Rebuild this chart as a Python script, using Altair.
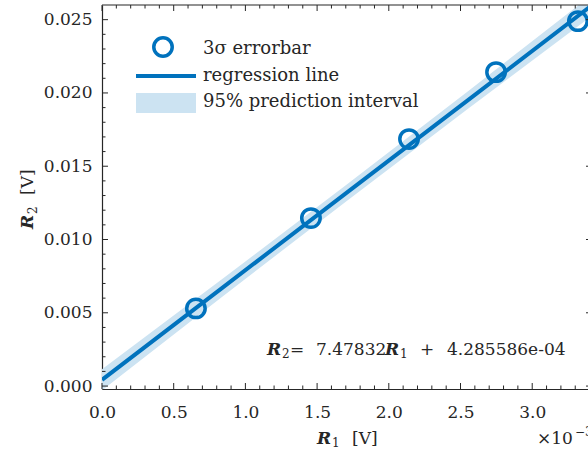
import altair as alt
import pandas as pd

# Measured points: R1 in units of 1e-3 V, R2 in V
r1_milli = [0.655, 1.457, 2.141, 2.748, 3.319]
r2_volts = [0.00530, 0.01146, 0.01685, 0.02142, 0.02490]

# Fitted regression line (R2 = slope * R1 + intercept, R1 in V)
slope = 7.47832
intercept = 4.285586e-04

# 95% prediction interval half-width along R1 (R1 in 1e-3 V)
band_r1 = [0.0, 0.85, 1.7, 2.55, 3.4]
band_half = [0.00072, 0.00060, 0.00056, 0.00060, 0.00072]

# Tick positions
x_major = [0.0, 0.5, 1.0, 1.5, 2.0, 2.5, 3.0]
x_minor = [round(i * 0.1, 1) for i in range(1, 34) if i % 5]
y_major = [0.000, 0.005, 0.010, 0.015, 0.020, 0.025]
y_minor = [round(i * 0.001, 3) for i in range(1, 26) if i % 5]

W, H = 486, 384
BLUE = "#0072BD"
BAND = "#CCE3F2"
INK = "#262626"
FONT = "DejaVu Serif"

x_scale = alt.Scale(domain=[0, 3.389], nice=False, zero=False)
y_scale = alt.Scale(domain=[-0.0002, 0.026], nice=False, zero=False)

x_axis = alt.Axis(values=x_major, format=".1f", ticks=False, grid=False, title=None,
                  labelFont=FONT, labelFontSize=17, labelColor=INK, labelPadding=15,
                  labelFlush=False, labelOverlap=False,
                  domainColor=INK, domainWidth=1.2)
y_axis = alt.Axis(values=y_major, format=".3f", ticks=False, grid=False, title=None,
                  labelFont=FONT, labelFontSize=17, labelColor=INK, labelPadding=10,
                  labelFlush=False, labelOverlap=False,
                  domainColor=INK, domainWidth=1.2)

X = alt.X("x:Q", scale=x_scale, axis=x_axis)
Y = alt.Y("y:Q", scale=y_scale, axis=y_axis)

band_df = pd.DataFrame({"x": band_r1, "half": band_half})
band_df["y"] = [slope * v * 1e-3 + intercept for v in band_r1]
band_df["lo"] = band_df["y"] - band_df["half"]
band_df["hi"] = band_df["y"] + band_df["half"]

pts_df = pd.DataFrame({"x": r1_milli, "y": r2_volts})

band = alt.Chart(band_df).mark_area(color=BAND, clip=True).encode(
    x=X, y=alt.Y("lo:Q", scale=y_scale, axis=y_axis), y2="hi:Q")
line = alt.Chart(band_df).mark_line(color=BLUE, strokeWidth=4, clip=True).encode(x=X, y=Y)
points = alt.Chart(pts_df).mark_point(shape="circle", filled=False, color=BLUE,
                                       strokeWidth=3.5, size=340, opacity=1).encode(x=X, y=Y)

# Inward-pointing box ticks
def xticks(vals, length):
    df = pd.DataFrame({"x": vals})
    bottom = alt.Chart(df).mark_rule(color=INK, strokeWidth=1).encode(
        x=X, y=alt.value(H - length), y2=alt.value(H))
    top = alt.Chart(df).mark_rule(color=INK, strokeWidth=1).encode(
        x=X, y=alt.value(0), y2=alt.value(length))
    return [bottom, top]

def yticks(vals, length):
    df = pd.DataFrame({"y": vals})
    left = alt.Chart(df).mark_rule(color=INK, strokeWidth=1).encode(
        y=Y, x=alt.value(0), x2=alt.value(length))
    right = alt.Chart(df).mark_rule(color=INK, strokeWidth=1).encode(
        y=Y, x=alt.value(W + 4 - length), x2=alt.value(W + 4))
    return [left, right]

tick_layers = xticks(x_major, 6) + xticks(x_minor, 3.5) + yticks(y_major, 6) + yticks(y_minor, 3.5)

top_line = alt.Chart(pd.DataFrame({"a": [0]})).mark_rule(color=INK, strokeWidth=1.2).encode(
    x=alt.value(0), x2=alt.value(W), y=alt.value(0))

def txt(s, x, y, size=17, weight="normal", style="normal", angle=0):
    return alt.Chart(pd.DataFrame({"t": [s]})).mark_text(
        font=FONT, fontSize=size, fontWeight=weight, fontStyle=style, color=INK,
        align="left", baseline="alphabetic", angle=angle).encode(
        text="t:N", x=alt.value(x), y=alt.value(y))

# Legend
legend = [
    alt.Chart(pd.DataFrame({"a": [0]})).mark_point(shape="circle", filled=False, color=BLUE,
                                                   strokeWidth=3.5, size=340, opacity=1).encode(
        x=alt.value(61), y=alt.value(42)),
    alt.Chart(pd.DataFrame({"a": [0]})).mark_rule(color=BLUE, strokeWidth=4).encode(
        x=alt.value(34), x2=alt.value(94), y=alt.value(71)),
    alt.Chart(pd.DataFrame({"a": [0]})).mark_rect(color=BAND).encode(
        x=alt.value(34), x2=alt.value(94), y=alt.value(88), y2=alt.value(108)),
    txt("3σ errorbar", 101, 49, 18),
    txt("regression line", 101, 76, 18),
    txt("95% prediction interval", 101, 102, 18),
]

# Fit equation
equation = [
    txt("R", 165, 350, 17, "bold", "italic"),
    txt("2", 180, 353, 12),
    txt("=", 188, 350),
    txt("7.47832", 214, 350),
    txt("R", 283, 350, 17, "bold", "italic"),
    txt("1", 298, 353, 12),
    txt("+", 318, 350),
    txt("4.285586e-04", 345, 350),
]

# Axis titles
titles = [
    txt("R", 215, 439, 17, "bold", "italic"),
    txt("1", 230, 442, 12),
    txt("[V]", 250, 439),
    txt("×10", 435, 439),
    txt("−3", 473, 431, 12),
    txt("R", -69, 224, 17, "bold", "italic", angle=270),
    txt("2", -65, 209, 12, angle=270),
    txt("[V]", -69, 190, angle=270),
]

chart = alt.layer(band, line, points, *tick_layers, top_line, *legend, *equation, *titles).properties(
    width=W, height=H,
    autosize=alt.AutoSizeParams(type="none"),
    padding={"left": 102, "top": 5, "right": 0, "bottom": 63},
    background="white",
).configure_view(stroke=None)

chart.save("out.html", embed_options={"renderer": "svg", "actions": False})
